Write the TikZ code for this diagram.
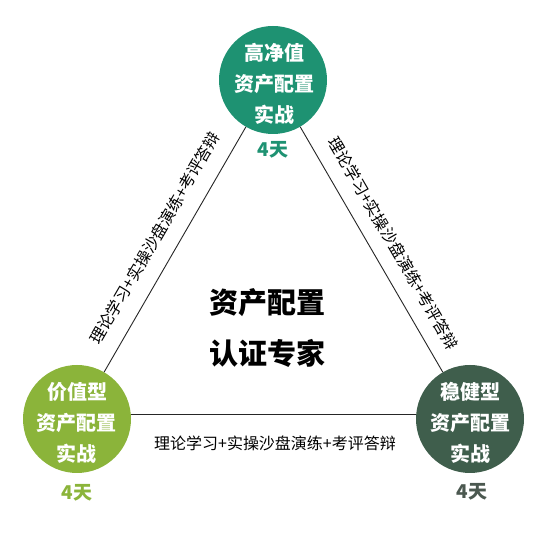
\documentclass[tikz,border=0pt]{standalone}
\usepackage{fontspec}
\newfontfamily\cjk{Noto Sans CJK SC}
\definecolor{cteal}{HTML}{1E9272}
\definecolor{colive}{HTML}{8BB43A}
\definecolor{cdark}{HTML}{3F5E4C}
\definecolor{cdarktxt}{HTML}{4B5850}
\begin{document}
\begin{tikzpicture}[x=1pt,y=-1pt,
  circ/.style={circle,minimum size=108pt,inner sep=0pt,draw=none},
  ctext/.style={text=white,align=center,inner sep=0pt,font=\cjk\bfseries\fontsize{20}{31}\selectfont},
  days/.style={inner sep=0pt,font=\cjk\bfseries\fontsize{19}{22}\selectfont},
  edgetext/.style={inner sep=2pt,font=\cjk\fontsize{16}{18}\selectfont,text=black},
  bigtext/.style={inner sep=0pt,font=\cjk\bfseries\fontsize{29}{32}\selectfont},
  conn/.style={draw=black!85,line width=0.9pt}]
\useasboundingbox (0,0) rectangle (547,534);
\fill[white] (0,0) rectangle (547,534);
% circles
\node[circ,fill=cteal] (T) at (273,80) {};
\node[circ,fill=colive] (L) at (77,419) {};
\node[circ,fill=cdark] (R) at (470,419) {};
% connectors
\draw[conn] (L) -- (T) node[edgetext,midway,sloped,above=13pt] (lt) {理论学习+实操沙盘演练+考评答辩};
\draw[conn] (T) -- (R) node[edgetext,pos=0.52,sloped,above=12pt] (tr) {理论学习+实操沙盘演练+考评答辩};
\draw[conn] ([yshift=5pt]L.east) -- ([yshift=5pt]R.west);
\node[edgetext] (lr) at (275,443) {理论学习+实操沙盘演练+考评答辩};
% circle texts
\node[ctext] (Tt) at (274,84) {高净值\\资产配置\\实战};
\node[ctext] (Lt) at (77,423) {价值型\\资产配置\\实战};
\node[ctext] (Rt) at (470,423) {稳健型\\资产配置\\实战};
% days
\node[days,text=cteal] (Td) at (273,150) {4天};
\node[days,text=colive] (Ld) at (77,493) {4天};
\node[days,text=cdarktxt] (Rd) at (472,492) {4天};
% centre
\node[bigtext] (c1) at (267,303) {资产配置};
\node[bigtext] (c2) at (267,353) {认证专家};
\end{tikzpicture}
\end{document}
